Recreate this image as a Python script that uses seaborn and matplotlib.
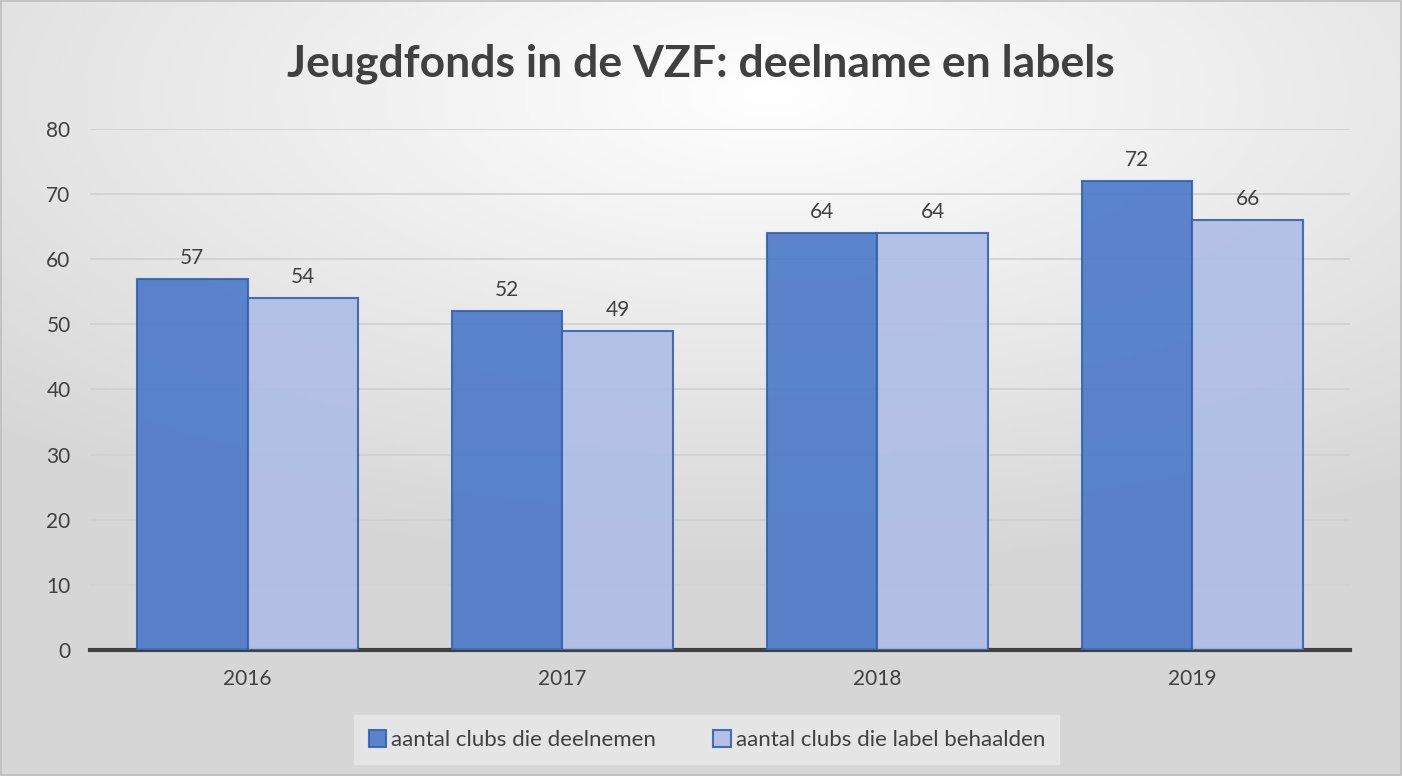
import numpy as np
import pandas as pd
import matplotlib
matplotlib.use("Agg")
import matplotlib.pyplot as plt
import seaborn as sns
from matplotlib.patches import Rectangle

years = ["2016", "2017", "2018", "2019"]
deelnemen = [57, 52, 64, 72]
label_behaald = [54, 49, 64, 66]
series_names = ["aantal clubs die deelnemen", "aantal clubs die label behaalden"]
title = "Jeugdfonds in de VZF: deelname en labels"

df = pd.DataFrame({
    "jaar": years * 2,
    "waarde": deelnemen + label_behaald,
    "reeks": [series_names[0]] * 4 + [series_names[1]] * 4,
})

sns.set_theme(style="white")
plt.rcParams["font.family"] = ["Lato", "DejaVu Sans"]

fig = plt.figure(figsize=(14.02, 7.76), dpi=100)

# background gradient
bg = fig.add_axes([0, 0, 1, 1], zorder=0)
yy, xx = np.mgrid[0:1:200j, 0:1:360j]
d = np.sqrt(((xx - 0.55) * 1.0) ** 2 + ((yy - 0.12) * 1.3) ** 2)
v = np.clip(1.0 - 0.2 * d, 0.84, 1.0)
img = np.dstack([v, v, v])
bg.imshow(img, aspect="auto", extent=[0, 1, 1, 0])
bg.set_xlim(0, 1); bg.set_ylim(1, 0)
bg.axis("off")
fig.patches.append(Rectangle((0.001, 0.001), 0.998, 0.998, transform=fig.transFigure,
                             fill=False, edgecolor="#bfbfbf", linewidth=1.2, zorder=1))

ax = fig.add_axes([0.0642, 0.1624, 0.8987, 0.6714], zorder=2)
ax.patch.set_alpha(0)

palette = {series_names[0]: "#4a78c8", series_names[1]: "#aebce6"}
sns.barplot(data=df, x="jaar", y="waarde", hue="reeks", palette=palette,
            width=0.7, ax=ax, edgecolor="#3462b0", linewidth=1.5, saturation=1,
            alpha=0.9, zorder=3)

for cont in ax.containers:
    ax.bar_label(cont, padding=8, fontsize=15, color="#404040")

ax.set_ylim(0, 80)
ax.set_xlim(-0.5, 3.5)
ax.set_yticks(range(0, 81, 10))
ax.yaxis.grid(True, color="#d0d0d0", linewidth=1.2, zorder=0)
ax.set_axisbelow(True)
for s in ["top", "right", "left"]:
    ax.spines[s].set_visible(False)
ax.spines["bottom"].set_color("#404040")
ax.spines["bottom"].set_linewidth(3)
ax.tick_params(axis="y", labelsize=15, labelcolor="#404040", length=0, pad=14)
ax.tick_params(axis="x", labelsize=15, labelcolor="#404040", length=0, pad=14)
ax.set_xlabel("")
ax.set_ylabel("")

leg = ax.legend(loc="upper center", bbox_to_anchor=(0.4895, -0.1335), ncol=2,
                frameon=True, fontsize=16, handlelength=0.8, handleheight=0.8,
                handletextpad=0.2, columnspacing=2.6, borderpad=0.45,
                borderaxespad=0, labelcolor="#404040")
leg.get_frame().set_facecolor("#e9e9e9")
leg.get_frame().set_edgecolor("#e9e9e9")
leg.get_frame().set_boxstyle("square", pad=0.2)

fig.text(0.5, 0.918, title, ha="center", va="center", fontsize=32,
         fontweight="bold", color="#404040", zorder=3)

fig.savefig("out.png", dpi=100)
